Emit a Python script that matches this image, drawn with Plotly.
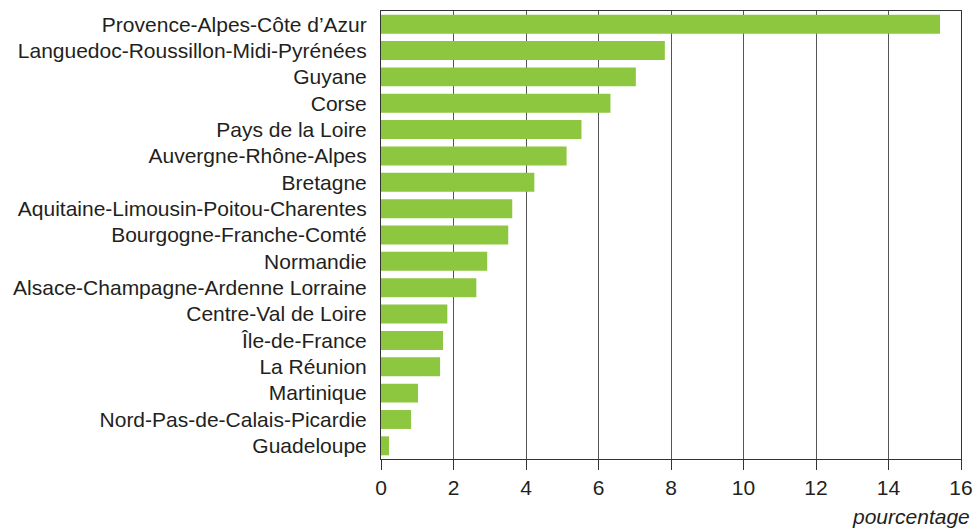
import plotly.graph_objects as go

regions = [
    "Provence-Alpes-Côte d’Azur",
    "Languedoc-Roussillon-Midi-Pyrénées",
    "Guyane",
    "Corse",
    "Pays de la Loire",
    "Auvergne-Rhône-Alpes",
    "Bretagne",
    "Aquitaine-Limousin-Poitou-Charentes",
    "Bourgogne-Franche-Comté",
    "Normandie",
    "Alsace-Champagne-Ardenne Lorraine",
    "Centre-Val de Loire",
    "Île-de-France",
    "La Réunion",
    "Martinique",
    "Nord-Pas-de-Calais-Picardie",
    "Guadeloupe",
]
values = [15.42, 7.83, 7.03, 6.33, 5.53, 5.12, 4.23, 3.62, 3.51, 2.93, 2.63,
          1.83, 1.71, 1.63, 1.02, 0.83, 0.22]
x_ticks = [0, 2, 4, 6, 8, 10, 12, 14, 16]
x_title = "pourcentage"

FONT = "Liberation Sans, Arial, sans-serif"
FS = 21

fig = go.Figure(go.Bar(
    x=values, y=regions, orientation="h",
    marker=dict(color="#8DC63F", line=dict(width=0)),
    hoverinfo="x+y",
))

fig.update_layout(
    width=974, height=528,
    margin=dict(l=381, r=13, t=11, b=69, autoexpand=False),
    paper_bgcolor="white", plot_bgcolor="white",
    bargap=0.28,
    showlegend=False,
    font=dict(family=FONT, size=FS, color="#231f20"),
)
fig.update_xaxes(
    range=[0, 16], tickvals=x_ticks, ticktext=[str(t) for t in x_ticks],
    showgrid=True, gridcolor="#555555", gridwidth=1,
    showline=True, linecolor="#333333", linewidth=1, mirror=True,
    ticks="outside", ticklen=10, tickcolor="#333333",
    zeroline=False, tickfont=dict(size=FS), automargin=False,
)
fig.update_yaxes(
    autorange="reversed", type="category",
    showline=True, linecolor="#333333", linewidth=1, mirror=True,
    ticks="", showgrid=False, tickfont=dict(size=FS),
    ticklabelstandoff=9, automargin=False,
)
fig.add_annotation(
    text=x_title, xref="paper", yref="paper", x=1.019, y=-0.129,
    xanchor="right", yanchor="middle", showarrow=False,
    font=dict(family=FONT, size=FS, color="#231f20", style="italic"),
)
fig.write_html(
    "out.html",
    config={"displayModeBar": False},
    post_script="document.body.style.margin='0';document.body.style.padding='0';",
)
